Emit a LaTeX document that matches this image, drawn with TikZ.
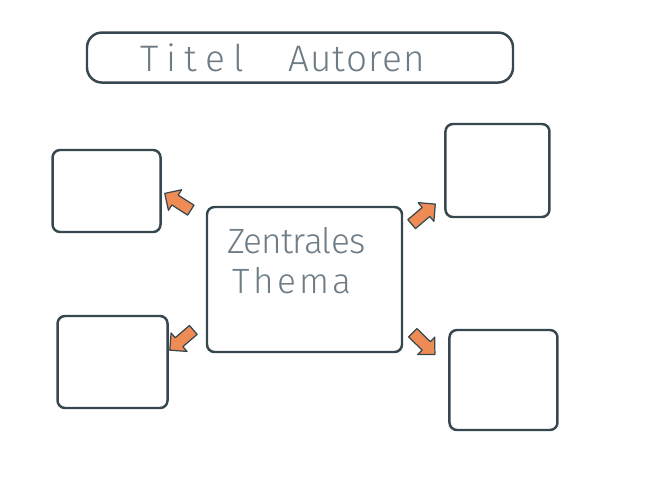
\documentclass[tikz,border=0pt]{standalone}
\usepackage{fontspec}
\usepackage{xcolor}
\usepackage{tikz}
\usetikzlibrary{positioning,shapes.arrows}
\newfontfamily\handfont[LetterSpace=10]{Fira Sans Light}
\definecolor{sketchInk}{HTML}{37474F}
\definecolor{sketchGrey}{HTML}{6E7C86}
\definecolor{sketchOrange}{HTML}{EF8C55}
\tikzset{
    sketchBox/.style={
        draw=sketchInk,
        line width=1.4pt,
        rounded corners=1.5mm,
        inner sep=0pt
    },
    sketchTitle/.style={
        sketchBox,
        rounded corners=3mm,
        minimum width=8.52cm,
        minimum height=1.0cm,
        font=\handfont\fontsize{21}{24}\selectfont,
        text=sketchGrey
    },
    sketchText/.style={
        align=left,
        inner sep=0pt,
        font=\handfont\fontsize{20}{22}\selectfont,
        text=sketchGrey
    },
    sketchArrow/.style={
        single arrow,
        sloped,
        allow upside down,
        draw=sketchInk,
        fill=sketchOrange,
        line width=0.7pt,
        line join=round,
        inner sep=3pt,
        single arrow head extend=3.6pt,
        minimum height=0.62cm
    }
}
\begin{document}
\begin{tikzpicture}
    \useasboundingbox (0,0) rectangle (13.2,9.86);

    \node[sketchBox,minimum width=3.9cm,minimum height=2.9cm] (ctr) at (6.09,4.27) {};
    \node[sketchText,anchor=north west] (ctrText) at ([shift={(0.42,-0.42)}]ctr.north west)
        {{\addfontfeatures{LetterSpace=-2}Zentrales}\\[1pt]\hspace*{0.1cm}Thema};

    \node[sketchTitle,above=2.44cm of ctr,xshift=-0.09cm] (title)
        {{\addfontfeatures{LetterSpace=22}Titel}\hspace{0.9cm}{\addfontfeatures{LetterSpace=3}Autoren}\hspace*{0.7cm}};

    \node[sketchBox,minimum width=2.16cm,minimum height=1.64cm,left=0.88cm of ctr,yshift=1.77cm] (tl) {};
    \node[sketchBox,minimum width=2.2cm,minimum height=1.84cm,left=0.74cm of ctr,yshift=-1.65cm] (bl) {};
    \node[sketchBox,minimum width=2.08cm,minimum height=1.86cm,right=0.82cm of ctr,yshift=2.18cm] (tr) {};
    \node[sketchBox,minimum width=2.16cm,minimum height=2.0cm,right=0.9cm of ctr,yshift=-2.01cm] (br) {};

    % arrow ends, tails at the centre box and heads next to the outer boxes
    \coordinate (tlFrom) at ([shift={(-0.28,-0.1)}]ctr.north west);
    \coordinate (tlTo) at ([shift={(0.14,-0.1)}]tl.east);
    \coordinate (trFrom) at ([shift={(0.2,-0.34)}]ctr.north east);
    \coordinate (trTo) at ([shift={(-0.3,0.18)}]tr.south west);
    \coordinate (blFrom) at ([shift={(-0.28,0.44)}]ctr.south west);
    \coordinate (blTo) at ([shift={(0.14,0.34)}]bl.east);
    \coordinate (brFrom) at ([shift={(0.16,0.44)}]ctr.south east);
    \coordinate (brTo) at ([shift={(-0.32,-0.46)}]br.north west);

    \path (tlFrom) -- node[sketchArrow] (tlArrow) {} (tlTo);
    \path (trFrom) -- node[sketchArrow] (trArrow) {} (trTo);
    \path (blFrom) -- node[sketchArrow] (blArrow) {} (blTo);
    \path (brFrom) -- node[sketchArrow] (brArrow) {} (brTo);
\end{tikzpicture}
\end{document}
